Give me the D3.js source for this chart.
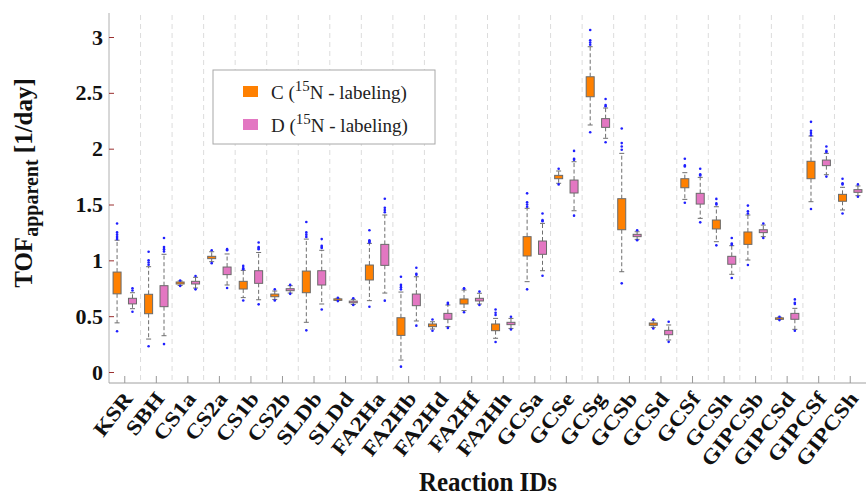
<!DOCTYPE html>
<html>
<head>
<meta charset="utf-8">
<script src="https://cdn.jsdelivr.net/npm/d3@7"></script>
<style>
  body { margin: 0; background: #fff; }
  svg { font-family: "Liberation Serif", "DejaVu Serif", serif; }
</style>
</head>
<body>
<div id="chart"></div>
<script>
// reaction IDs
var categories = ["KSR","SBH","CS1a","CS2a","CS1b","CS2b","SLDb","SLDd","FA2Ha","FA2Hb","FA2Hd","FA2Hf","FA2Hh",
                  "GCSa","GCSe","GCSg","GCSb","GCSd","GCSf","GCSh","GIPCSb","GIPCSd","GIPCSf","GIPCSh"];
var yTicks = [0, 0.5, 1, 1.5, 2, 2.5, 3];

// C (15N - labeling)
var cLo  = [0.44,0.295,0.775,0.988,0.666,0.65,0.445,0.64,0.639,0.107,0.385,0.55,0.302,0.809,1.69,2.212,0.898,0.40,1.546,1.167,1.003,0.47,1.525,1.451];
var cQ1  = [0.70,0.522,0.788,1.015,0.743,0.674,0.71,0.645,0.824,0.328,0.406,0.609,0.37,1.039,1.731,2.465,1.274,0.418,1.65,1.281,1.143,0.475,1.731,1.529];
var cQ3  = [0.895,0.696,0.806,1.036,0.812,0.698,0.904,0.655,0.958,0.486,0.43,0.654,0.43,1.212,1.761,2.644,1.552,0.439,1.731,1.361,1.254,0.485,1.887,1.591];
var cHi  = [1.18,0.943,0.815,1.077,0.91,0.725,1.19,0.66,1.152,0.716,0.45,0.734,0.48,1.466,1.8,2.913,1.958,0.46,1.785,1.48,1.406,0.49,2.113,1.654];
var cOut = [[1.33,1.25,1.23,1.21,1.19,0.365],[1.077,1.0,0.98,0.96,0.23],[0.82,0.77],[1.09,0.975],[0.95,0.93,0.92,0.64],
            [0.74,0.64],[1.343,1.25,1.23,1.21,0.373],[0.665,0.635],[1.27,1.18,1.17,1.16,0.585],[0.853,0.78,0.76,0.74,0.048],
            [0.47,0.37],[0.75,0.745,0.535],[0.56,0.53,0.51,0.269],[1.6,1.52,1.5,1.48,0.74],[1.82,1.68],
            [3.063,2.97,2.95,2.93,2.147],[2.18,2.05,2.02,1.99,0.794],[0.47,0.39],[1.91,1.85,1.84,1.516],[1.55,1.51,1.5,1.134],
            [1.49,1.44,1.42,0.958],[0.495,0.465],[2.24,2.16,2.14,2.12,1.46],[1.73,1.69,1.68,1.42]];

// D (15N - labeling)
var dLo  = [0.567,0.325,0.752,0.779,0.647,0.707,0.609,0.605,0.707,0.457,0.406,0.609,0.39,0.907,1.444,2.093,1.188,0.287,1.376,0.875,1.212,0.382,1.767,1.579];
var dQ1  = [0.61,0.585,0.788,0.872,0.794,0.728,0.779,0.62,0.955,0.594,0.472,0.636,0.424,1.054,1.603,2.191,1.212,0.334,1.504,0.965,1.248,0.472,1.848,1.609];
var dQ3  = [0.66,0.773,0.812,0.94,0.907,0.746,0.907,0.635,1.143,0.698,0.525,0.66,0.445,1.173,1.719,2.269,1.233,0.373,1.6,1.036,1.274,0.525,1.898,1.633];
var dHi  = [0.71,1.054,0.848,1.057,1.07,0.773,1.09,0.65,1.406,0.853,0.60,0.705,0.48,1.331,1.883,2.364,1.256,0.421,1.743,1.131,1.316,0.57,1.958,1.666];
var dOut = [[0.75,0.73,0.54],[1.2,1.12,1.1,1.08,0.25],[0.86,0.74],[1.1,1.09,0.752],[1.16,1.12,1.11,1.1,0.606],
            [0.78,0.70],[1.19,1.13,1.12,1.11,0.56],[0.66,0.60],[1.552,1.47,1.45,1.43,0.639],[0.934,0.88,0.87,0.415],
            [0.62,0.61,0.395],[0.72,0.60],[0.495,0.38],[1.42,1.36,1.35,0.862],[1.98,1.91,1.9,1.4],
            [2.445,2.39,2.38,2.057],[1.27,1.18],[0.45,0.27],[1.82,1.77,1.76,1.34],[1.2,1.15,1.14,0.842],
            [1.33,1.2],[0.65,0.62,0.61,0.37],[2.02,1.98,1.97,1.75],[1.68,1.57]];

var seriesNames = ["C", "D"];
var colors = {C: "#ff8000", D: "#e377c2"};

var width = 867, height = 498;
var plotLeft = 109, plotRight = 866, plotTop = 13, plotBottom = 383;

var svg = d3.select("#chart").append("svg")
    .attr("width", width)
    .attr("height", height);

var x = d3.scaleBand().domain(categories).range([plotLeft, plotRight]);
var xs = d3.scaleBand().domain(seriesNames)
    .range([x.bandwidth() / 2 - 15.4, x.bandwidth() / 2 + 15.4]);
var y = d3.scaleLinear().domain([-0.0985, 3.215]).range([plotBottom, plotTop]);
var boxW = 8;

// dashed separators between categories
svg.append("g").selectAll("line")
  .data(categories.slice(1))
  .enter().append("line")
    .attr("x1", function(d) { return x(d); })
    .attr("x2", function(d) { return x(d); })
    .attr("y1", plotTop + 2)
    .attr("y2", plotBottom)
    .attr("stroke", "#dcdcdc")
    .attr("stroke-width", 1)
    .attr("stroke-dasharray", "5,4");

// Y axis
var yAxis = svg.append("g")
    .attr("transform", "translate(" + plotLeft + ",0)")
    .call(d3.axisLeft(y).tickValues(yTicks).tickSize(-5).tickPadding(6).tickFormat(d3.format("~g")));
yAxis.select(".domain").attr("stroke", "#b0b0b0").attr("d", "M0," + plotTop + "V" + plotBottom);
yAxis.selectAll(".tick line").attr("stroke", "#9b3030");
yAxis.selectAll(".tick text")
    .attr("font-size", 22).attr("font-weight", "bold").attr("fill", "#111")
    .attr("font-family", "Liberation Serif");

// X axis
var xAxis = svg.append("g")
    .attr("transform", "translate(0," + plotBottom + ")")
    .call(d3.axisBottom(x).tickSize(-7).tickPadding(0));
xAxis.select(".domain").attr("stroke", "#a0a0a0").attr("d", "M" + plotLeft + ",0H" + plotRight);
xAxis.selectAll(".tick line").attr("stroke", "#999");
xAxis.selectAll(".tick text")
    .attr("font-size", 23).attr("font-weight", "bold").attr("fill", "#111")
    .attr("font-family", "Liberation Serif")
    .attr("text-anchor", "end")
    .attr("y", 0)
    .attr("transform", "translate(9,16) rotate(-52) scale(1.05,0.9)")
    .attr("dy", "0");

// build box data
var boxes = [];
categories.forEach(function(c, i) {
  boxes.push({cat: c, s: "C", lo: cLo[i], q1: cQ1[i], q3: cQ3[i], hi: cHi[i], out: cOut[i]});
  boxes.push({cat: c, s: "D", lo: dLo[i], q1: dQ1[i], q3: dQ3[i], hi: dHi[i], out: dOut[i]});
});

function cx(d) { return x(d.cat) + xs(d.s) + xs.bandwidth() / 2; }

var g = svg.append("g").selectAll("g")
  .data(boxes)
  .enter().append("g");

// whiskers
g.append("line")
    .attr("x1", cx).attr("x2", cx)
    .attr("y1", function(d) { return y(d.q3); })
    .attr("y2", function(d) { return y(d.hi); })
    .attr("stroke", "#6e6e6e").attr("stroke-dasharray", "4,2.5");
g.append("line")
    .attr("x1", cx).attr("x2", cx)
    .attr("y1", function(d) { return y(d.q1); })
    .attr("y2", function(d) { return y(d.lo); })
    .attr("stroke", "#6e6e6e").attr("stroke-dasharray", "4,2.5");
// caps
g.append("line")
    .attr("x1", function(d) { return cx(d) - 2.5; }).attr("x2", function(d) { return cx(d) + 2.5; })
    .attr("y1", function(d) { return y(d.hi); }).attr("y2", function(d) { return y(d.hi); })
    .attr("stroke", "#6e6e6e");
g.append("line")
    .attr("x1", function(d) { return cx(d) - 2.5; }).attr("x2", function(d) { return cx(d) + 2.5; })
    .attr("y1", function(d) { return y(d.lo); }).attr("y2", function(d) { return y(d.lo); })
    .attr("stroke", "#6e6e6e");
// boxes
g.append("rect")
    .attr("x", function(d) { return cx(d) - boxW / 2; })
    .attr("width", boxW)
    .attr("y", function(d) { return y(d.q3); })
    .attr("height", function(d) { return Math.max(1.5, y(d.q1) - y(d.q3)); })
    .attr("fill", function(d) { return colors[d.s]; })
    .attr("stroke", "#6a6a6a").attr("stroke-width", 1);
// outliers
g.selectAll("circle")
  .data(function(d) { return d.out.map(function(v) { return {v: v, p: d}; }); })
  .enter().append("circle")
    .attr("cx", function(o) { return cx(o.p); })
    .attr("cy", function(o) { return y(o.v); })
    .attr("r", 1.3)
    .attr("fill", "#1f1fff");

// legend
var lg = svg.append("g");
lg.append("rect").attr("x", 213).attr("y", 70).attr("width", 222).attr("height", 74)
    .attr("fill", "#fff").attr("stroke", "#a8a8a8");
var legendLabels = ["C (", "D ("];
seriesNames.forEach(function(s, i) {
  var yy = 86 + i * 33;
  lg.append("rect").attr("x", 243).attr("y", yy).attr("width", 15).attr("height", 11)
      .attr("fill", colors[s]);
  var t = lg.append("text").attr("x", 271).attr("y", yy + 13)
      .attr("font-size", 19).attr("fill", "#222").attr("font-family", "Liberation Serif");
  t.append("tspan").text(legendLabels[i]);
  t.append("tspan").attr("baseline-shift", "super").attr("font-size", 15).text("15");
  t.append("tspan").text("N - labeling)");
});

// axis titles
var yl = svg.append("text")
    .attr("transform", "translate(32,183) rotate(-90)")
    .attr("text-anchor", "middle")
    .attr("font-size", 25).attr("font-weight", "bold").attr("fill", "#111");
yl.append("tspan").text("TOF");
yl.append("tspan").attr("font-size", 20).attr("dy", 6).text("apparent");
yl.append("tspan").attr("dy", -6).text(" [1/day]");

svg.append("text")
    .attr("transform", "translate(488,491) scale(1,1.1)")
    .attr("text-anchor", "middle")
    .attr("font-size", 25).attr("font-weight", "bold").attr("fill", "#111")
    .text("Reaction IDs");
</script>
</body>
</html>
